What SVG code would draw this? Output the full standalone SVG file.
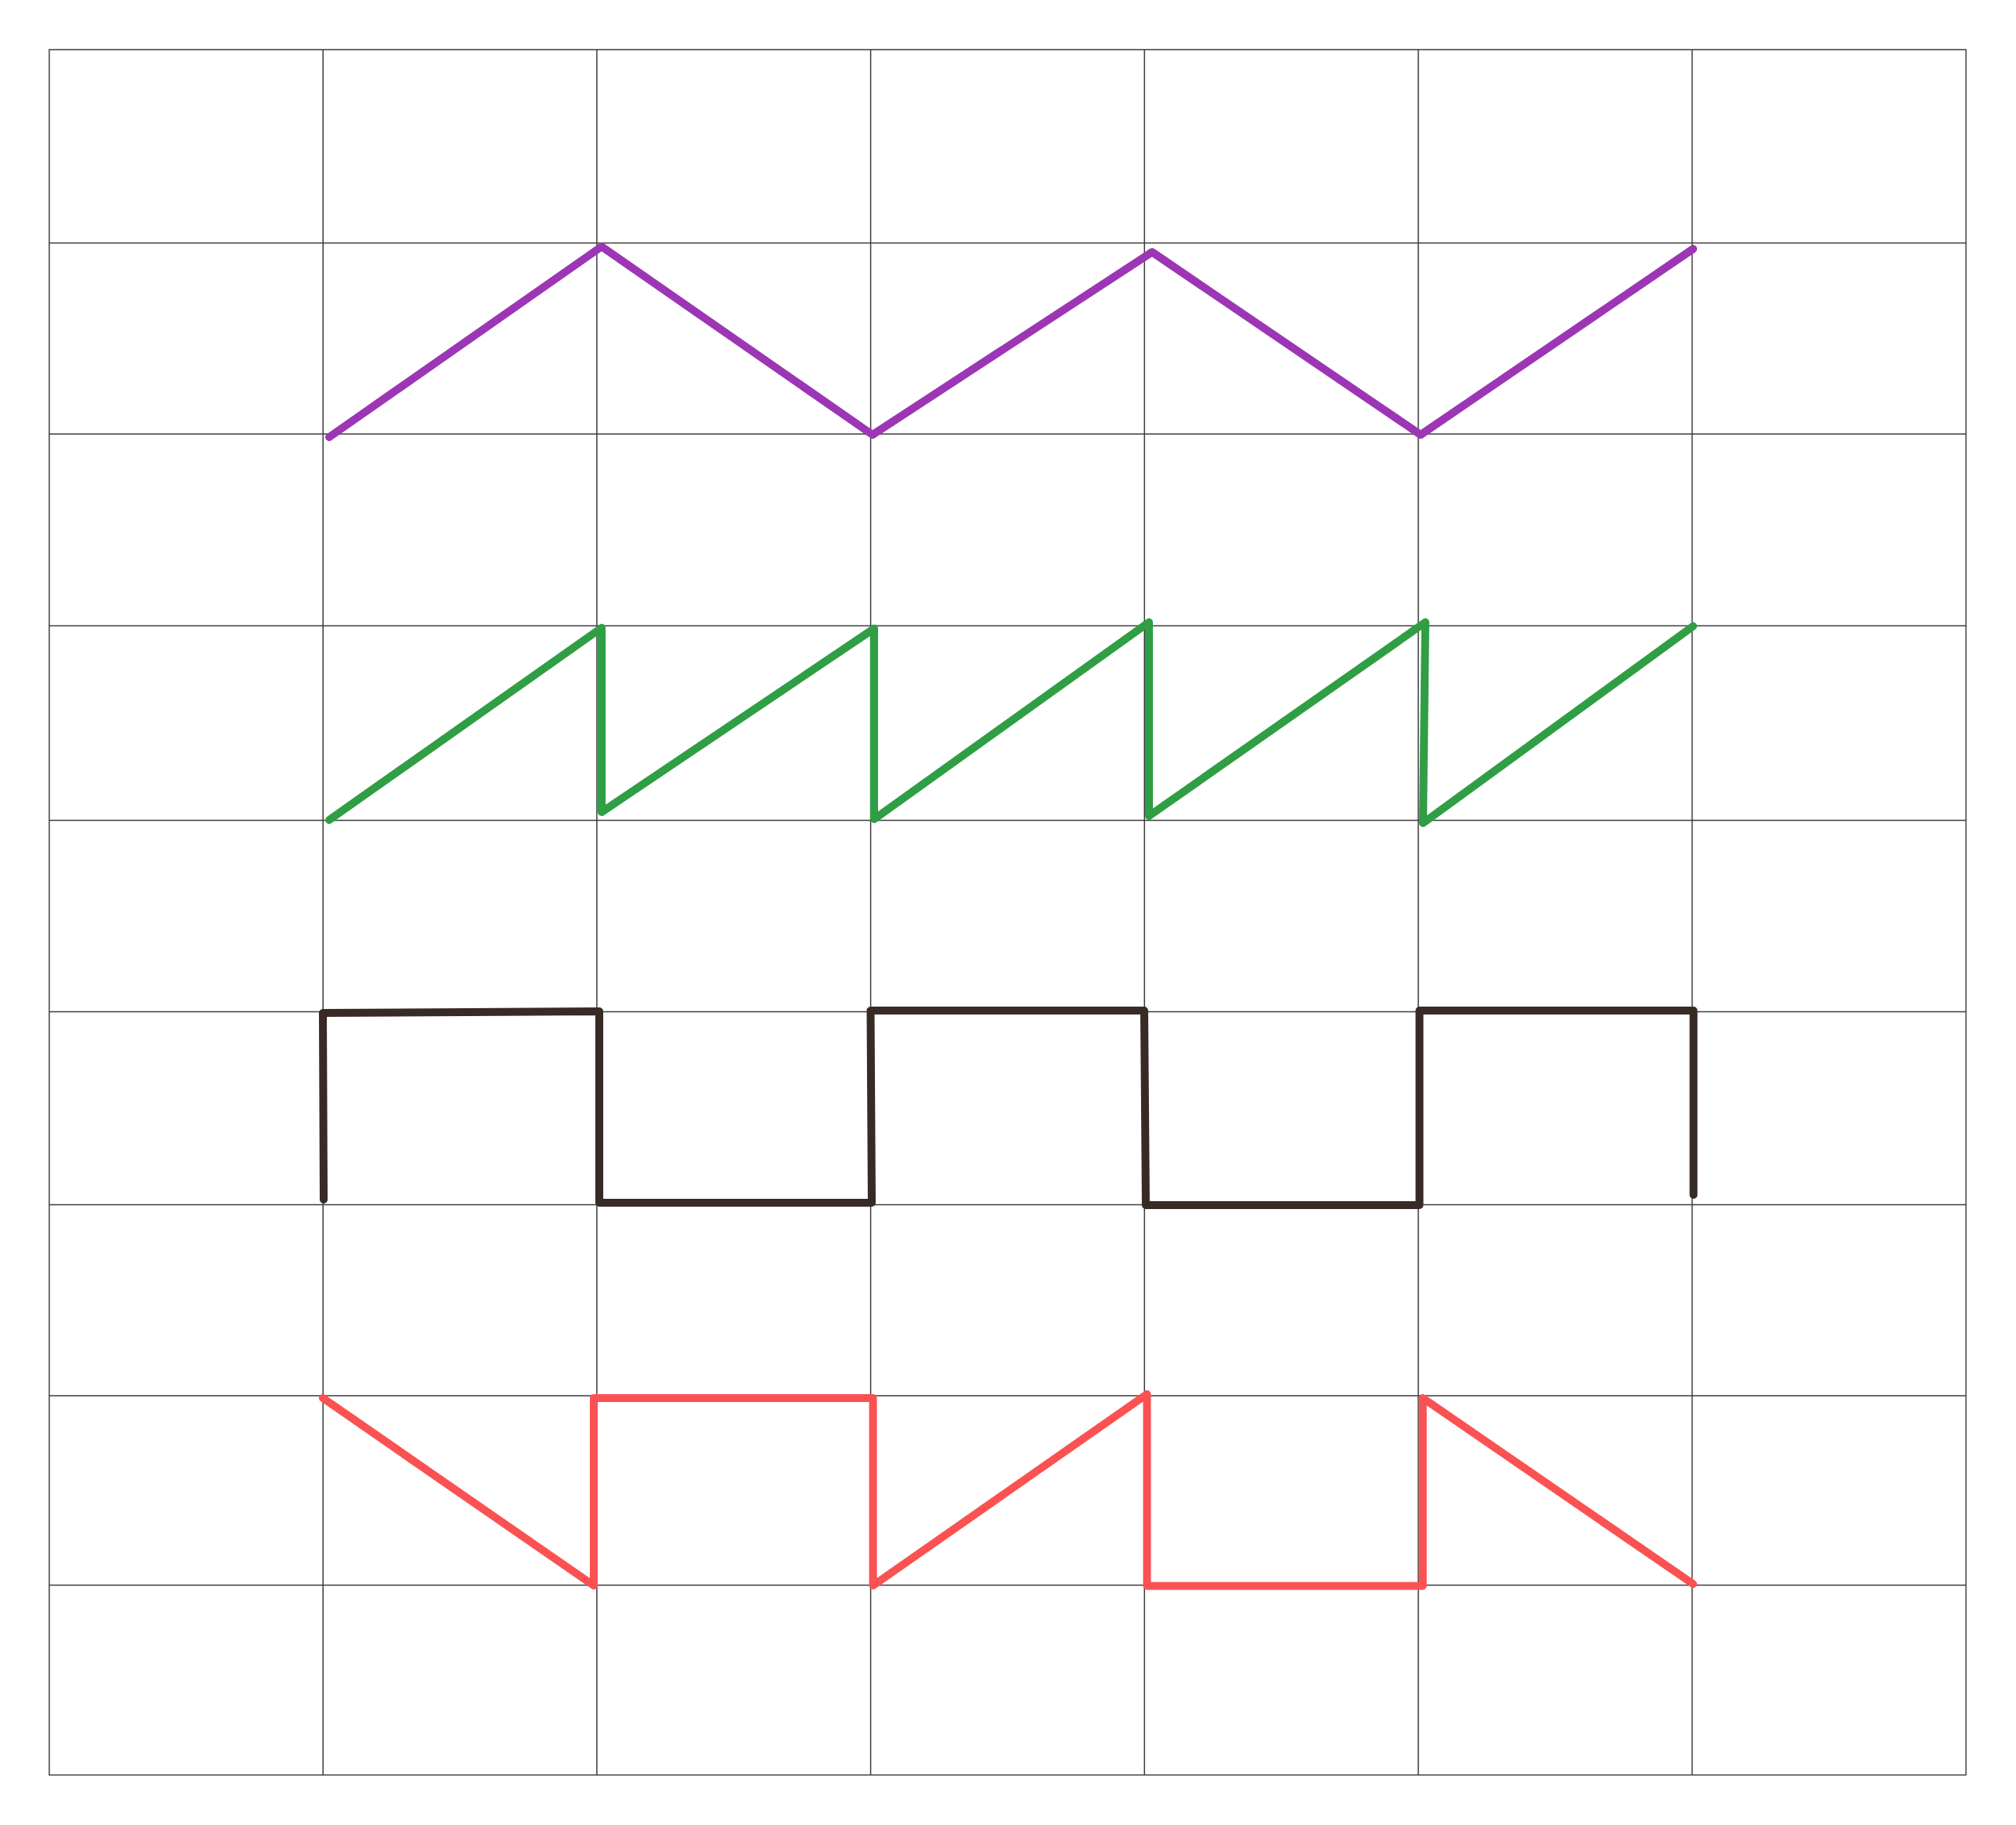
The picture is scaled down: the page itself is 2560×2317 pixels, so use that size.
<svg xmlns="http://www.w3.org/2000/svg" width="2560" height="2317" viewBox="0 0 2560 2317">
<style>
.grid{stroke:#3c3c3c;stroke-width:1.5;fill:none}
.wave{fill:none;stroke-width:10;stroke-linecap:round;stroke-linejoin:round}
</style>
<rect width="2560" height="2317" fill="#ffffff"/>
<g id="grid" class="grid">
<rect x="62.5" y="63" width="2434" height="2190.5"/>
<path d="M410.2 63V2253.5M757.9 63V2253.5M1105.6 63V2253.5M1453.3 63V2253.5M1801 63V2253.5M2148.7 63V2253.5"/>
<path d="M62.5 308.5H2496.5M62.5 551H2496.5M62.5 794.5H2496.5M62.5 1041.5H2496.5M62.5 1284.5H2496.5M62.5 1529.5H2496.5M62.5 1772H2496.5M62.5 2012.5H2496.5"/>
</g>
<g id="connectors">
<polyline id="triangle-wave" class="wave" stroke="#9c36b5" points="418,555 764,313 1108,552 1463,320 1804,552 2150,316"/>
<polyline id="sawtooth-wave" class="wave" stroke="#2f9e44" points="418,1041 764,797 764,1031 1110,798 1110,1040 1459,790 1459,1036 1810,790 1807,1045 2150,795"/>
<polyline id="square-wave" class="wave" stroke="#382a25" points="411,1523 410,1286 761,1284 761,1527 1107,1527 1105.5,1283 1453,1283 1455,1530 1802.5,1530 1802.5,1283 2150.5,1283 2150.5,1517"/>
<polyline id="mixed-wave" class="wave" stroke="#fa5252" points="410,1775 754,2013 754,1775 1108.6,1775 1108.6,2013 1456.5,1770 1456.5,2013.5 1806.7,2013.5 1806.7,1775 2150,2011"/>
</g>
</svg>
